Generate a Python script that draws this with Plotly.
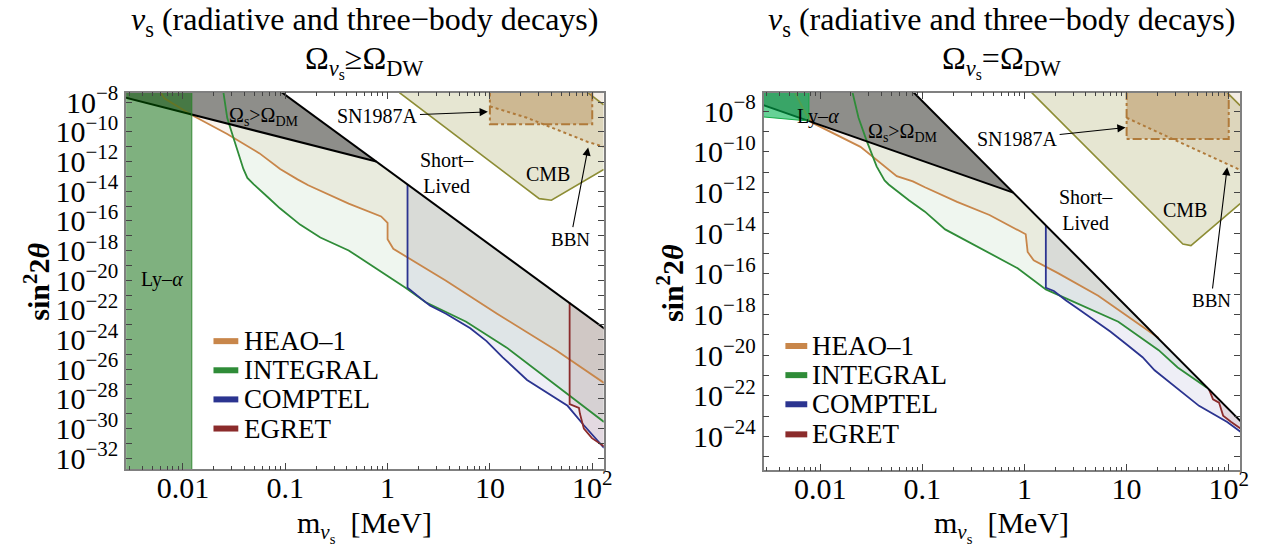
import numpy as np
import plotly.graph_objects as go

FONT = "Liberation Serif"

# ---------------- axis ranges (log10 units) ----------------
x_range = [-2.555, 2.112]
y_range_left = [-32.74, -7.35]
y_range_right = [-25.66, -7.08]

x_tick_vals = [0.01, 0.1, 1, 10, 100]
x_tick_text = ["0.01", "0.1", "1", "10", "10<sup>2</sup>"]
y_decades_left = list(range(-32, -7))
y_decades_right = list(range(-25, -7))

# ---------------- boundary lines (log10 m [MeV], log10 sin^2 2theta) ----------------
omega_lx = [-2.6, -0.11]
omega_ly = [-7.62, -12.0]
short_lx = [-1.10, 2.2]
short_ly = [-7.0, -23.67]

# ---------------- left panel : Omega >= Omega_DW ----------------
heao_L_lx = [-2.23, -2.181, -1.923, -1.567, -1.251, -1.05, -0.88, -0.775, -0.38, -0.063, 0.0, 0.0, 0.056, 0.571, 1.07, 1.65, 2.115]
heao_L_ly = [-7.2, -7.74, -8.83, -10.14, -11.45, -12.5, -13.2, -13.6, -14.83, -15.70, -16.13, -17.23, -17.88, -20.03, -22.25, -24.74, -26.92]
integral_L_lx = [-1.607, -1.567, -1.528, -1.449, -1.409, -1.37, -1.31, -1.172, -1.052, -0.855, -0.657, -0.38, -0.063, 0.175, 0.373, 0.768, 1.165, 1.5, 1.8, 2.115]
integral_L_ly = [-7.2, -9.05, -9.92, -11.66, -12.5, -13.1, -13.52, -14.39, -15.15, -16.25, -17.12, -17.99, -19.41, -20.50, -21.48, -22.79, -24.54, -26.3, -27.9, -29.55]
comptel_L_lx = [0.195, 0.195, 0.333, 0.413, 0.571, 0.808, 0.967, 1.125, 1.363, 1.759, 1.918, 2.115]
comptel_L_ly = [-13.55, -20.5, -21.27, -21.70, -22.25, -23.23, -24.10, -25.19, -26.72, -28.46, -29.77, -31.3]
egret_L_lx = [1.779, 1.779, 1.87, 1.88, 1.918, 1.997, 2.115]
egret_L_ly = [-21.5, -28.35, -28.6, -29.0, -30.0, -30.64, -31.19]
cmb_L_lx = [0.115, 1.482, 1.601, 2.112, 2.112, 1.956]
cmb_L_ly = [-7.35, -14.50, -14.61, -12.53, -8.18, -7.35]
sn_L_lx = [1.0, 1.0, 2.0, 2.0]
sn_L_ly = [-7.0, -9.48, -9.48, -7.0]
bbn_L_lx = [1.0, 1.363, 1.957, 2.112]
bbn_L_ly = [-8.28, -9.05, -10.68, -11.0]
lya_L_lx = [-2.6, -1.913, -1.913, -2.6]
lya_L_ly = [-34.0, -34.0, -7.0, -7.0]

# ---------------- right panel : Omega = Omega_DW ----------------
heao_R_lx = [-2.258, -2.12, -2.08, -1.606, -1.251, -1.093, -0.975, -0.66, -0.343, 0.012, 0.031, 0.09, 0.328, 0.722, 1.314]
heao_R_ly = [-7.0, -8.32, -8.56, -9.75, -11.19, -11.45, -11.74, -12.46, -13.1, -14.05, -14.92, -15.33, -15.96, -17.07, -19.15]
integral_R_lx = [-1.69, -1.625, -1.547, -1.448, -1.37, -1.33, -1.132, -0.975, -0.777, -0.383, -0.067, 0.209, 0.524, 0.919, 1.314, 1.5, 1.787]
integral_R_ly = [-6.95, -8.32, -9.43, -10.71, -11.4, -11.6, -12.38, -12.94, -13.81, -14.85, -15.72, -16.76, -17.47, -18.35, -19.75, -20.6, -21.6]
comptel_R_lx = [0.209, 0.209, 0.288, 0.407, 0.524, 0.84, 0.998, 1.156, 1.274, 1.709, 1.985, 2.115]
comptel_R_ly = [-13.6, -16.68, -16.84, -17.31, -17.71, -18.83, -19.46, -20.1, -20.74, -22.49, -23.28, -23.76]
egret_R_lx = [1.807, 1.846, 1.905, 1.945, 2.024, 2.115]
egret_R_ly = [-21.68, -22.17, -22.33, -22.97, -23.28, -23.6]
cmb_R_lx = [0.071, 1.551, 1.63, 2.112, 2.112, 1.985]
cmb_R_ly = [-7.08, -14.53, -14.61, -12.54, -7.72, -7.08]
sn_R_lx = [1.0, 1.0, 2.0, 2.0]
sn_R_ly = [-7.0, -9.36, -9.36, -7.0]
bbn_R_lx = [1.0, 2.112]
bbn_R_ly = [-8.32, -10.89]
lya_R_lx = [-2.6, -2.111, -2.111, -2.6]
lya_R_ly = [-7.0, -7.0, -8.48, -8.26]

legend_names = ["HEAO–1", "INTEGRAL", "COMPTEL", "EGRET"]

# ---------------- styles ----------------
C_HEAO, C_INT, C_COMP, C_EGR = "#c8864a", "#2f8c38", "#2b3490", "#8b2b2b"
LEG_COLORS = [C_HEAO, C_INT, C_COMP, C_EGR]
F_HEAO = "rgba(200,134,74,0.10)"
F_INT = "rgba(46,139,46,0.08)"
F_COMP = "rgba(40,40,140,0.08)"
F_EGR = "rgba(140,40,40,0.10)"
GRAY = "rgb(142,142,138)"
OLIVE = "#8d8d35"
F_CMB = "rgba(140,140,50,0.22)"
BROWN = "#b07a3a"
F_SN = "rgba(170,120,60,0.32)"
F_BBN = "rgba(170,120,60,0.14)"


def lin(xs, ys, x):
    return ys[0] + (ys[1] - ys[0]) * (x - xs[0]) / (xs[1] - xs[0])


def upper(x):
    return min(lin(omega_lx, omega_ly, x), lin(short_lx, short_ly, x))


s1 = (omega_ly[1] - omega_ly[0]) / (omega_lx[1] - omega_lx[0])
s2 = (short_ly[1] - short_ly[0]) / (short_lx[1] - short_lx[0])
VX = (short_ly[0] - s2 * short_lx[0] - omega_ly[0] + s1 * omega_lx[0]) / (s1 - s2)
VY = lin(omega_lx, omega_ly, VX)


def P(a):
    return [None if v is None else 10.0 ** v for v in a]


fig = go.Figure()


def add(lx, ly, panel, **kw):
    xa, ya = ("x", "y") if panel == 0 else ("x2", "y2")
    fig.add_trace(go.Scatter(x=P(lx), y=P(ly), xaxis=xa, yaxis=ya,
                             showlegend=False, hoverinfo="skip", **kw))


def region(lx, ly):
    lower = [min(y, upper(x)) for x, y in zip(lx, ly)]
    px = list(lx) + [lx[-1]]
    py = lower + [upper(lx[-1])]
    if lx[0] < VX < lx[-1]:
        px.append(VX)
        py.append(VY)
    px.append(lx[0])
    py.append(upper(lx[0]))
    return px, py


panels = [
    dict(heao=(heao_L_lx, heao_L_ly), integral=(integral_L_lx, integral_L_ly),
         comptel=(comptel_L_lx, comptel_L_ly), egret=(egret_L_lx, egret_L_ly),
         cmb=(cmb_L_lx, cmb_L_ly), sn=(sn_L_lx, sn_L_ly), bbn=(bbn_L_lx, bbn_L_ly),
         lya=(lya_L_lx, lya_L_ly), lya_fill="rgba(0,100,0,0.5)", lya_line="rgba(40,130,40,0.9)"),
    dict(heao=(heao_R_lx, heao_R_ly), integral=(integral_R_lx, integral_R_ly),
         comptel=(comptel_R_lx, comptel_R_ly), egret=(egret_R_lx, egret_R_ly),
         cmb=(cmb_R_lx, cmb_R_ly), sn=(sn_R_lx, sn_R_ly), bbn=(bbn_R_lx, bbn_R_ly),
         lya=(lya_R_lx, lya_R_ly), lya_fill="rgba(0,180,80,0.6)", lya_line="rgba(20,170,70,1)"),
]

for i, p in enumerate(panels):
    # CMB
    cx, cy = p["cmb"]
    add(cx, cy, i, mode="lines", fill="toself", fillcolor=F_CMB, line=dict(width=0))
    add(cx[:4], cy[:4], i, mode="lines", line=dict(color=OLIVE, width=1.6))
    add(cx[4:], cy[4:], i, mode="lines", line=dict(color=OLIVE, width=1.6))
    # BBN region
    bx, by = p["bbn"]
    add(list(bx) + [bx[-1], bx[0]], list(by) + [-7.0, -7.0], i, mode="lines",
        fill="toself", fillcolor=F_BBN, line=dict(width=0))
    # SN1987A box
    sx, sy = p["sn"]
    add(sx, sy, i, mode="lines", fill="toself", fillcolor=F_SN,
        line=dict(color=BROWN, width=2, dash="dashdot"))
    # experiment exclusion fills
    for key, fc in (("heao", F_HEAO), ("integral", F_INT), ("comptel", F_COMP), ("egret", F_EGR)):
        rx, ry = region(*p[key])
        add(rx, ry, i, mode="lines", fill="toself", fillcolor=fc, line=dict(width=0))
    # Omega_s > Omega_DM region
    top = -7.0
    gx = [omega_lx[0], lin(short_ly, short_lx, top), VX, omega_lx[0]]
    gy = [top, top, VY, omega_ly[0]]
    add(gx, gy, i, mode="lines", fill="toself", fillcolor=GRAY, line=dict(width=0))
    # BBN dotted boundary
    add(bx, by, i, mode="lines", line=dict(color=BROWN, width=2, dash="dot"))
    # experiment curves
    for key, c, nm in (("heao", C_HEAO, legend_names[0]), ("integral", C_INT, legend_names[1]),
                       ("comptel", C_COMP, legend_names[2]), ("egret", C_EGR, legend_names[3])):
        add(*p[key], i, mode="lines", line=dict(color=c, width=1.8), name=nm)
    # black boundaries
    add([omega_lx[0], VX], [omega_ly[0], VY], i, mode="lines", line=dict(color="black", width=2))
    add(short_lx, short_ly, i, mode="lines", line=dict(color="black", width=2))
    # Ly-alpha
    lx_, ly_ = p["lya"]
    add(lx_, ly_, i, mode="lines", fill="toself", fillcolor=p["lya_fill"],
        line=dict(color=p["lya_line"], width=1))

# ---------------- axes ----------------
minor_x = [k * 10.0 ** e for e in range(-3, 3) for k in range(2, 10)
           if x_range[0] <= np.log10(k * 10.0 ** e) <= x_range[1]]
tickfont = dict(family=FONT, size=30, color="black")
common = dict(type="log", showgrid=False, zeroline=False, showline=True, linecolor="#808080",
              linewidth=1.5, mirror="allticks", ticks="inside", tickcolor="#444",
              tickwidth=1, tickfont=tickfont)


def yt(decs):
    ev = [k for k in decs if k % 2 == 0]
    od = [k for k in decs if k % 2 != 0]
    return dict(tickvals=[10.0 ** k for k in ev],
                ticktext=["10<sup>−%d</sup>" % (-k) for k in ev],
                minor=dict(tickvals=[10.0 ** k for k in od], ticks="inside", ticklen=6,
                           tickcolor="#444"))


XD_L = [127 / 1273, 608 / 1273]
XD_R = [769 / 1273, 1249 / 1273]
YD_L = [1 - 472 / 552, 1 - 84 / 552]
YD_R = [1 - 473 / 552, 1 - 84 / 552]

xcommon = dict(range=x_range, tickvals=x_tick_vals, ticktext=x_tick_text, ticklen=7,
               ticklabelstandoff=-9,
               minor=dict(tickvals=minor_x, ticks="inside", ticklen=4, tickcolor="#444"))

fig.update_layout(
    width=1273, height=552, autosize=False,
    margin=dict(l=0, r=0, t=0, b=0),
    paper_bgcolor="white", plot_bgcolor="white",
    font=dict(family=FONT, color="black"),
    showlegend=False,
    xaxis=dict(**common, **xcommon, domain=XD_L, anchor="y"),
    yaxis=dict(**common, domain=YD_L, anchor="x", range=y_range_left, ticklen=6, **yt(y_decades_left)),
    xaxis2=dict(**common, **xcommon, domain=XD_R, anchor="y2"),
    yaxis2=dict(**common, domain=YD_R, anchor="x2", range=y_range_right, ticklen=6, **yt(y_decades_right)),
)

# ---------------- text ----------------
ann = []
shapes = []


def paper_text(text, x, y, size, angle=0, xanchor="center"):
    ann.append(dict(text=text, x=x, y=y, xref="paper", yref="paper", showarrow=False,
                    xanchor=xanchor, yanchor="middle", textangle=angle,
                    font=dict(family=FONT, size=size, color="black")))


for cx, sub in ((367.5, "Ω<sub><i>ν</i><sub>s</sub></sub>≥Ω<sub>DW</sub>"),
                (1009, "Ω<sub><i>ν</i><sub>s</sub></sub>=Ω<sub>DW</sub>")):
    paper_text("<i>ν</i><sub>s</sub> (radiative and three−body decays)", cx / 1273, 1 - 11 / 552, 32)
    paper_text(sub, cx / 1273, 1 - 52 / 552, 32)
    paper_text("m<sub><i>ν</i><sub>s</sub></sub>  [MeV]", cx / 1273, 1 - 531 / 552, 30)
paper_text("<b>sin<sup>2</sup>2<i>θ</i></b>", 37 / 1273, 1 - 279 / 552, 30, -90)
paper_text("<b>sin<sup>2</sup>2<i>θ</i></b>", 675 / 1273, 1 - 280 / 552, 30, -90)

# manual legends (swatch + label)
for sw0, sw1, tx, ys in ((215, 240, 244, [340, 370, 400, 430]),
                         (791, 813, 816, [345, 375, 405, 436])):
    for name, col, yp in zip(legend_names, LEG_COLORS, ys):
        shapes.append(dict(type="line", xref="paper", yref="paper", x0=sw0 / 1273, x1=sw1 / 1273,
                           y0=1 - yp / 552, y1=1 - yp / 552, line=dict(color=col, width=6)))
        paper_text(name, tx / 1273, 1 - yp / 552, 27, xanchor="left")


def data_text(text, lx, ly, panel, size=20):
    xr, yr = ("x", "y") if panel == 0 else ("x2", "y2")
    ann.append(dict(text=text, x=lx, y=ly, xref=xr, yref=yr, showarrow=False,
                    xanchor="center", yanchor="middle",
                    font=dict(family=FONT, size=size, color="black")))


def arrow_text(text, hx, hy, tx, ty, panel, size=20):
    xr, yr = ("x", "y") if panel == 0 else ("x2", "y2")
    ann.append(dict(text=text, x=hx, y=hy, ax=tx, ay=ty, xref=xr, yref=yr, axref=xr, ayref=yr,
                    showarrow=True, arrowhead=2, arrowsize=1.5, arrowwidth=1.1,
                    arrowcolor="black", font=dict(family=FONT, size=size, color="black")))


# left labels
data_text("Ω<sub>s</sub>>Ω<sub>DM</sub>", -1.203, -8.94, 0)
data_text("Short–<br>Lived", 0.584, -12.78, 0)
data_text("CMB", 1.570, -12.86, 0)
data_text("Ly–<i>α</i>", -2.2, -19.96, 0)
arrow_text("SN1987A", 0.98, -8.65, -0.094, -8.94, 0)
arrow_text("BBN", 1.96, -11.05, 1.788, -17.23, 0, 19)
# right labels
data_text("Ly–<i>α</i>", -2.02, -8.24, 1)
data_text("Ω<sub>s</sub>>Ω<sub>DM</sub>", -1.192, -9.04, 1)
data_text("Short–<br>Lived", 0.604, -12.86, 1)
data_text("CMB", 1.570, -12.86, 1)
arrow_text("SN1987A", 0.99, -8.80, -0.067, -9.36, 1)
arrow_text("BBN", 1.985, -10.75, 1.827, -17.31, 1, 19)

fig.update_layout(annotations=ann, shapes=shapes)
fig.write_html("out.html")
